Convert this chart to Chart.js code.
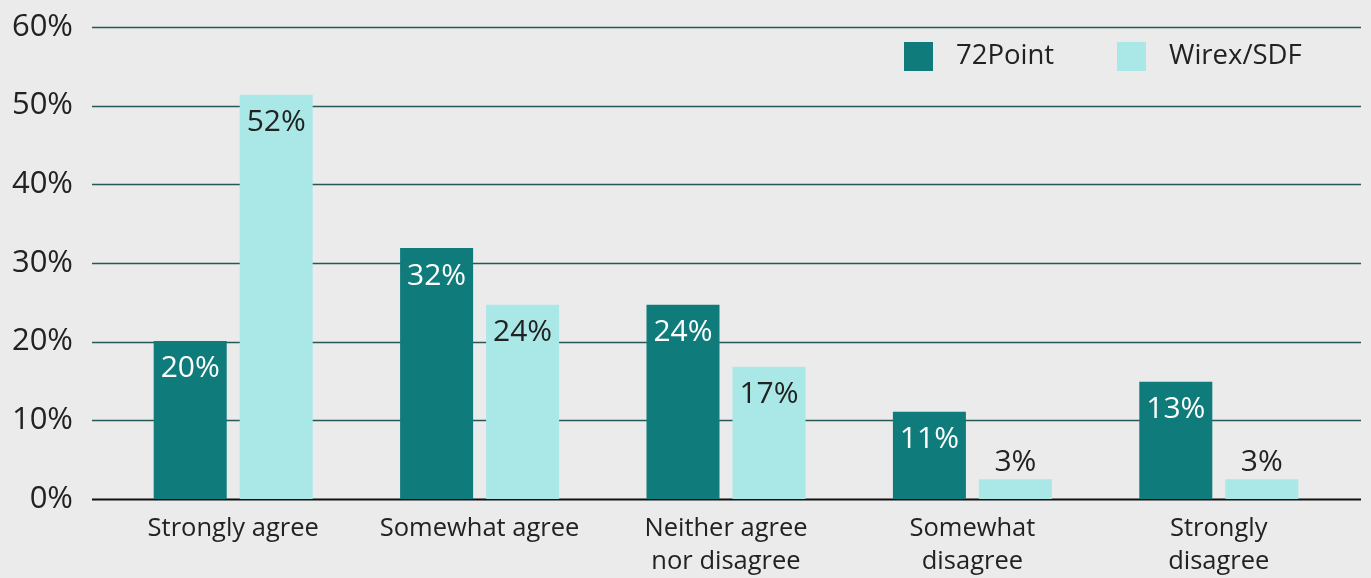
<!DOCTYPE html>
<html>
<head>
<meta charset="utf-8">
<script src="https://cdn.jsdelivr.net/npm/chart.js@4/dist/chart.umd.min.js"></script>
<style>
  html, body { margin: 0; padding: 0; background: #ebebeb; }
  #wrap { width: 1371px; height: 578px; }
</style>
</head>
<body>
<div id="wrap"><canvas id="chart" width="1371" height="578"></canvas></div>
<script>
// categories and series
var categories = ['Strongly agree', 'Somewhat agree', ['Neither agree', 'nor disagree'], ['Somewhat', 'disagree'], ['Strongly', 'disagree']];
var seriesNames = ['72Point', 'Wirex/SDF'];
// bar heights as drawn (%)
var values72 = [20.1, 31.9, 24.7, 11.1, 14.9];
var valuesWirex = [51.4, 24.7, 16.8, 2.5, 2.5];
// value labels as printed on the chart
var labels72 = ['20%', '32%', '24%', '11%', '13%'];
var labelsWirex = ['52%', '24%', '17%', '3%', '3%'];
var yTicks = [0, 10, 20, 30, 40, 50, 60];

var FONT = "'Open Sans', sans-serif";
var dark = '#0f7b7a', light = '#aae8e8';
var PLOT_TOP = 27;

var gridPlugin = {
    id: 'grid',
    beforeDatasetsDraw: function (chart) {
        var c = chart.ctx, y = chart.scales.y;
        var x0 = 92, x1 = 1361;
        c.save();
        yTicks.forEach(function (t) {
            var py = Math.round(y.getPixelForValue(t)) + 0.5;
            c.beginPath();
            if (t === 0) {
                c.strokeStyle = '#111';
                c.lineWidth = 2;
            } else {
                c.strokeStyle = '#275858';
                c.lineWidth = 1.3;
            }
            c.moveTo(x0, py);
            c.lineTo(x1, py);
            c.stroke();
        });
        c.restore();
    },
    afterDatasetsDraw: function (chart) {
        var c = chart.ctx;
        var texts = [labels72, labelsWirex];
        c.save();
        c.font = '30px ' + FONT;
        c.textAlign = 'center';
        c.textBaseline = 'middle';
        chart.data.datasets.forEach(function (ds, i) {
            chart.getDatasetMeta(i).data.forEach(function (bar, j) {
                var h = bar.base - bar.y;
                var ty, col;
                if (h > 40) {
                    ty = bar.y + 28;
                    col = i === 0 ? '#ffffff' : '#222222';
                } else {
                    ty = bar.y - 17;
                    col = '#222222';
                }
                c.fillStyle = col;
                c.fillText(texts[i][j], bar.x, ty);
            });
        });
        // legend
        c.font = '27.5px ' + FONT;
        c.textAlign = 'left';
        var lx = [904, 1117];
        chart.data.datasets.forEach(function (ds, i) {
            c.fillStyle = ds.backgroundColor;
            c.fillRect(lx[i], 42, 29, 29);
            c.fillStyle = '#222';
            c.fillText(ds.label, lx[i] + 52, 56);
        });
        c.restore();
    }
};

var chart = new Chart(document.getElementById('chart'), {
    type: 'bar',
    data: {
        labels: categories,
        datasets: [
            { label: seriesNames[0], data: values72, backgroundColor: dark },
            { label: seriesNames[1], data: valuesWirex, backgroundColor: light }
        ]
    },
    options: {
        responsive: false,
        animation: false,
        events: [],
        categoryPercentage: 0.698,
        barPercentage: 0.849,
        layout: { autoPadding: false, padding: { left: 8, right: 29, top: PLOT_TOP, bottom: 0 } },
        plugins: {
            legend: { display: false },
            tooltip: { enabled: false }
        },
        scales: {
            x: {
                grid: { display: false, drawTicks: false },
                border: { display: false },
                ticks: {
                    color: '#222',
                    font: { family: FONT, size: 25.5, lineHeight: 1.3 },
                    padding: 13,
                    maxRotation: 0,
                    autoSkip: false
                },
                afterFit: function (s) { s.height = 79; }
            },
            y: {
                min: 0,
                max: 60,
                grid: { display: false, drawTicks: false },
                border: { display: false },
                ticks: {
                    stepSize: 10,
                    color: '#222',
                    font: { family: FONT, size: 31 },
                    padding: 37,
                    callback: function (v) { return v + '%'; }
                },
                afterFit: function (s) {
                    s.width = 102;
                    s.paddingTop = 0;
                    s.paddingBottom = 0;
                }
            }
        }
    },
    plugins: [gridPlugin]
});

// pin the top of the plot area
var diff = chart.chartArea.top - PLOT_TOP;
if (Math.abs(diff) > 0.5) {
    chart.options.layout.padding.top = PLOT_TOP - diff;
    chart.update();
}
</script>
</body>
</html>
